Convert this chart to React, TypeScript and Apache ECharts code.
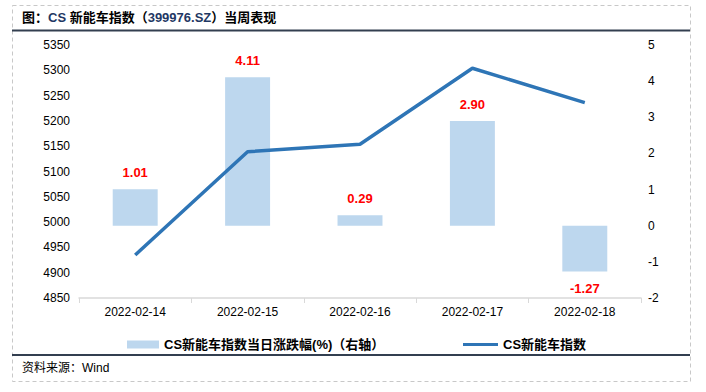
import React, { useEffect, useRef } from "react";
import * as echarts from "echarts";

const categories = ["2022-02-14", "2022-02-15", "2022-02-16", "2022-02-17", "2022-02-18"];
const changePct = [1.01, 4.11, 0.29, 2.9, -1.27];
const indexValues = [4935, 5139, 5154, 5304, 5236];
const barName = "CS新能车指数当日涨跌幅(%)（右轴）";
const lineName = "CS新能车指数";

const FONT = 'Arial, "Liberation Sans", "Noto Sans CJK SC", sans-serif';

export default function App() {
  const ref = useRef<HTMLDivElement>(null);
  useEffect(() => {
    if (!ref.current) return;
    const chart = echarts.init(ref.current, null, { renderer: "svg" });
    chart.setOption({
      animation: false,
      backgroundColor: "#ffffff",
      textStyle: { fontFamily: FONT },
      grid: { left: 79, right: 65, top: 45, bottom: 94, containLabel: false },
      xAxis: {
        type: "category",
        data: categories,
        boundaryGap: true,
        axisLine: { onZero: false, lineStyle: { color: "#d9d9d9", width: 1.5 } },
        axisTick: { show: true, length: 5, lineStyle: { color: "#d9d9d9" } },
        axisLabel: { color: "#000", fontSize: 12, margin: 8, fontFamily: FONT },
      },
      yAxis: [
        {
          type: "value",
          min: 4850,
          max: 5350,
          interval: 50,
          position: "left",
          splitLine: { show: false },
          axisLine: { show: false },
          axisTick: { show: false },
          axisLabel: {
            color: "#000",
            fontSize: 12,
            margin: 9,
            fontFamily: FONT,
            formatter: (v: number) => String(v),
          },
        },
        {
          type: "value",
          min: -2,
          max: 5,
          interval: 1,
          position: "right",
          splitLine: { show: false },
          axisLine: { show: false },
          axisTick: { show: false },
          axisLabel: {
            color: "#000",
            fontSize: 12,
            margin: 7,
            fontFamily: FONT,
            formatter: (v: number) => String(v),
          },
        },
      ],
      legend: [
        {
          data: [barName],
          left: 122,
          top: 333,
          icon: "rect",
          itemWidth: 32,
          itemHeight: 8,
          itemGap: 5,
          textStyle: { color: "#000", fontSize: 13, fontWeight: "bold", fontFamily: FONT },
        },
        {
          data: [lineName],
          left: 458,
          top: 333,
          icon: "rect",
          itemWidth: 35,
          itemHeight: 3,
          itemGap: 5,
          textStyle: { color: "#000", fontSize: 13, fontWeight: "bold", fontFamily: FONT },
        },
      ],
      series: [
        {
          name: barName,
          type: "bar",
          yAxisIndex: 1,
          barWidth: "40%",
          itemStyle: { color: "#BDD7EE" },
          data: changePct.map((v) => ({
            value: v,
            label: {
              show: true,
              position: v >= 0 ? "top" : "bottom",
              distance: 10,
              formatter: () => v.toFixed(2),
              color: "#FF0000",
              fontSize: 13,
              fontWeight: "bold",
              fontFamily: FONT,
            },
          })),
          z: 2,
        },
        {
          name: lineName,
          type: "line",
          yAxisIndex: 0,
          data: indexValues,
          symbol: "none",
          lineStyle: { color: "#2E75B6", width: 3.5 },
          itemStyle: { color: "#2E75B6" },
          z: 3,
        },
      ],
      graphic: [
        {
          type: "rect",
          shape: { x: 12.5, y: 5.5, width: 678, height: 376 },
          style: { fill: "none", stroke: "#c8c8c8", lineWidth: 1, lineDash: [4, 3] },
          silent: true,
        },
        {
          type: "line",
          shape: { x1: 12, y1: 30.5, x2: 690, y2: 30.5 },
          style: { stroke: "#333F50", lineWidth: 2 },
        },
        {
          type: "line",
          shape: { x1: 12, y1: 355, x2: 690, y2: 355 },
          style: { stroke: "#333F50", lineWidth: 2 },
        },
        {
          type: "text",
          x: 22,
          y: 17,
          style: {
            text: "{a|图：}{b|CS}{a| 新能车指数（}{b|399976.SZ}{a|）当周表现}",
            verticalAlign: "middle",
            rich: {
              a: { fontSize: 13, fontWeight: "bold", fill: "#000", fontFamily: FONT },
              b: { fontSize: 13, fontWeight: "bold", fill: "#1F3864", fontFamily: FONT },
            },
          },
        },
        {
          type: "text",
          x: 22,
          y: 368,
          style: {
            text: "资料来源：Wind",
            verticalAlign: "middle",
            fontSize: 12,
            fill: "#000",
            fontFamily: FONT,
          },
        },
      ],
    });
    return () => chart.dispose();
  }, []);
  return (
    <div
      ref={ref}
      style={{ position: "fixed", left: 0, top: 0, width: 706, height: 392 }}
    />
  );
}
